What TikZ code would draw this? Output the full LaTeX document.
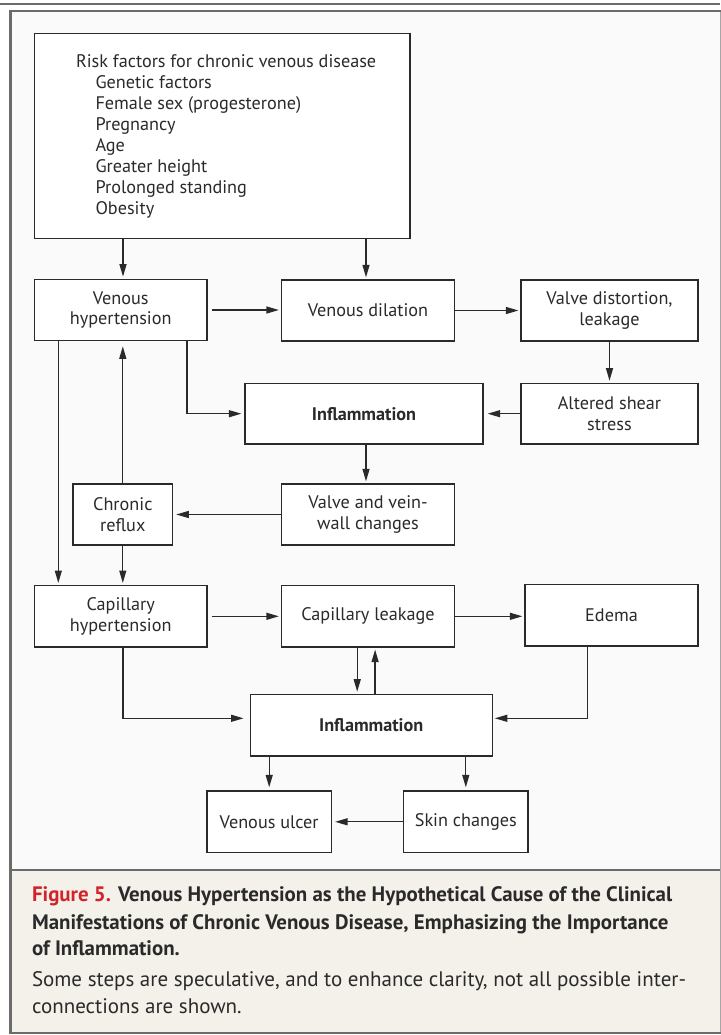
\documentclass[tikz,border=0pt]{standalone}
\usepackage{fontspec}
\setmainfont{PT Sans}
\usetikzlibrary{arrows.meta}
\definecolor{framegray}{HTML}{6B6B6B}
\definecolor{diagbg}{HTML}{FAFAFA}
\definecolor{capbg}{HTML}{F4F1EA}
\definecolor{figred}{HTML}{D2232A}
\definecolor{ink}{HTML}{2A2A2A}
\newcommand\boxfont{\fontsize{18.2}{20.7}\selectfont}
\newcommand\riskfont{\fontsize{18.2}{21}\selectfont}
\newcommand\capfont{\fontsize{20.9}{27}\selectfont\bfseries}
\newcommand\bodyfont{\fontsize{21}{27}\selectfont}
\begin{document}
\begin{tikzpicture}[x=1pt,y=-1pt,
  box/.style={draw=ink, line width=1.3pt, fill=white, inner sep=0pt, align=center, font=\boxfont, text=ink},
  arr/.style={draw=ink, line width=1.3pt, -{Triangle[length=12.5pt,width=7pt]}, shorten >=2pt}]
\useasboundingbox (0,0) rectangle (720,1035);
\fill[white] (0,0) rectangle (720,1035);
\fill[diagbg] (10.5,11.2) rectangle (720,870);
\fill[capbg] (10.5,870) rectangle (720,1033);
\draw[framegray, line width=2pt] (0,3.7) -- (720,3.7);
\draw[black!35, line width=2pt] (720.5,11.2) -- (720.5,1033);
\draw[framegray, line width=2.3pt] (720.6,11.2) -- (10.5,11.2) -- (10.5,1033) -- (720.6,1033);
\draw[framegray, line width=2.3pt] (10.5,870.2) -- (720,870.2);

% boxes
\node[box, minimum width=375.6pt, minimum height=205pt] (risk) at (222.2,135.8) {};
\node[anchor=west, align=left, font=\riskfont, text=ink] (risktext) at (72.5,136.7)
 {Risk factors for chronic venous disease\\
  \hspace*{19.5pt}Genetic factors\\
  \hspace*{19.5pt}Female sex (progesterone)\\
  \hspace*{19.5pt}Pregnancy\\
  \hspace*{19.5pt}Age\\
  \hspace*{19.5pt}Greater height\\
  \hspace*{19.5pt}Prolonged standing\\
  \hspace*{19.5pt}Obesity};
\node[box, minimum width=172.6pt, minimum height=61.4pt] (vh) at (120.7,310) {Venous\\hypertension};
\node[box, minimum width=173pt, minimum height=61pt] (vd) at (368,310.5) {Venous dilation};
\node[box, minimum width=177pt, minimum height=61pt] (vdl) at (609.5,310.5) {Valve distortion,\\leakage};
\node[box, minimum width=238pt, minimum height=60.7pt, font=\boxfont\bfseries] (inf1) at (364,413.7) {Inflammation};
\node[box, minimum width=177pt, minimum height=60.7pt] (shear) at (609.5,413.7) {Altered shear\\stress};
\node[box, minimum width=99.6pt, minimum height=61pt] (cr) at (122.8,514.5) {Chronic\\reflux};
\node[box, minimum width=173pt, minimum height=61pt] (vvw) at (368,514.5) {Valve and vein-\\wall changes};
\node[box, minimum width=172.6pt, minimum height=61.3pt] (ch) at (120.7,616.3) {Capillary\\hypertension};
\node[box, minimum width=173pt, minimum height=61.3pt] (cl) at (368,616.3) {Capillary leakage};
\node[box, minimum width=173pt, minimum height=61.3pt] (edema) at (611.5,615.3) {Edema};
\node[box, minimum width=242pt, minimum height=61.7pt, font=\boxfont\bfseries] (inf2) at (371.2,725.2) {Inflammation};
\node[box, minimum width=124.5pt, minimum height=61.7pt] (ulcer) at (269.2,821.8) {Venous ulcer};
\node[box, minimum width=124.4pt, minimum height=61.7pt] (skin) at (465.8,821.8) {Skin changes};

% helper coordinates
\coordinate (xa) at (123,0);
\coordinate (xb) at (366,0);
\coordinate (xc) at (186.9,0);
\coordinate (xd) at (58.3,0);
\coordinate (xe) at (357.2,0);
\coordinate (xf) at (375.1,0);
\coordinate (xg) at (587.2,0);
\coordinate (yb) at (0,718.3);

% connectors
\draw[arr] (risk.south -| xa) -- (vh.north -| xa);
\draw[arr] (risk.south -| xb) -- (vd.north -| xb);
\draw[arr, shorten <=4pt] (vh.east) -- (vh.east -| vd.west);
\draw[arr] (vd.east) -- (vd.east -| vdl.west);
\draw[arr] (vdl.south) -- (shear.north);
\draw[arr, shorten >=4pt] (shear.west) -- (shear.west -| inf1.east);
\draw[arr, shorten >=3pt] (vh.south -| xc) |- (inf1.west);
\draw[arr] (vh.south -| xd) -- (ch.north -| xd);
\draw[arr, shorten >=5pt] (cr.north) -- (cr.north |- vh.south);
\draw[arr] (inf1.south -| xb) -- (vvw.north -| xb);
\draw[arr, shorten >=3pt] (vvw.west) -- (vvw.west -| cr.east);
\draw[arr] (cr.south) -- (cr.south |- ch.north);
\draw[arr, shorten <=4pt] (ch.east) -- (ch.east -| cl.west);
\draw[arr] (cl.east) -- (cl.east -| edema.west);
\draw[arr] (cl.south -| xe) -- (inf2.north -| xe);
\draw[arr] (inf2.north -| xf) -- (cl.south -| xf);
\draw[arr, shorten >=6pt] (ch.south -| xa) |- (inf2.west |- yb);
\draw[arr] (edema.south -| xg) |- (inf2.east |- yb);
\draw[arr, shorten >=3pt] (inf2.south -| ulcer.north) -- (ulcer.north);
\draw[arr, shorten >=3pt] (inf2.south -| skin.north) -- (skin.north);
\draw[arr, shorten >=3pt] (skin.west) -- (ulcer.east);

% caption
\node[anchor=base west, font=\capfont, text=ink] (cap1) at (28.5,901.7) {\textcolor{figred}{Figure 5.} Venous Hypertension as the Hypothetical Cause of the Clinical};
\node[anchor=base west, font=\capfont, text=ink] (cap2) at (28.5,929) {Manifestations of Chronic Venous Disease, Emphasizing the Importance};
\node[anchor=base west, font=\capfont, text=ink] (cap3) at (28.5,955) {of Inflammation.};
\node[anchor=base west, font=\bodyfont, text=ink] (body1) at (28.5,986.7) {Some steps are speculative, and to enhance clarity, not all possible inter-};
\node[anchor=base west, font=\bodyfont, text=ink] (body2) at (28.5,1013) {connections are shown.};
\end{tikzpicture}
\end{document}
